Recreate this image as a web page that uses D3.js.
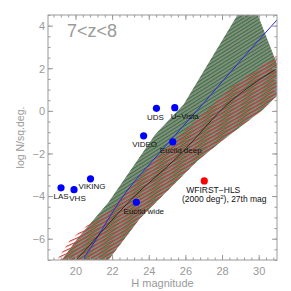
<!DOCTYPE html>
<html><head><meta charset="utf-8">
<script src="https://cdn.jsdelivr.net/npm/d3@7"></script>
<style>body{margin:0;background:#fff}svg{display:block}</style>
</head><body>
<script>
// ---- data ----
const surveyNames = ["LAS","VHS","VIKING","Euclid wide","VIDEO","UDS","U\u2212Vista","Euclid deep"];
const surveyMag   = [19.21, 19.92, 20.82, 23.32, 23.72, 24.42, 25.42, 25.31];
const surveyLogN  = [-3.61, -3.70, -3.19, -4.29, -1.17, 0.12, 0.15, -1.46];
const wfirstMag = [27.03];
const wfirstLogN = [-3.29];
const wfirstLines = ["WFIRST\u2212HLS", "(2000 deg\u00B2), 27th mag"];

const blueMag  = [20.2, 20.4, 21.0, 22.45, 24.73, 27.0, 29.0, 31.03, 31.5];
const blueLogN = [-7.3, -7.0, -6.2, -4.19, -1.83, 0.37, 2.35, 4.3, 4.75];
const blackMag  = [19.8, 20.03, 23.0, 25.65, 28.47, 29.93, 31.03, 31.5];
const blackLogN = [-7.2, -7.0, -4.19, -2.1, 0.45, 1.4, 2.0, 2.25];

const greenUpMag  = [18.9, 19.25, 20.1, 21.79, 24.36, 25.9, 28.84, 29.5];
const greenUpLogN = [-7.4, -7.0, -6.0, -4.3, -1.1, 0.3, 4.5, 5.5];
const redUpMag  = [18.7, 18.99, 19.7, 20.6, 22.0, 24.5, 26.5, 28.47, 31.03, 31.5];
const redUpLogN = [-7.3, -7.0, -6.06, -5.4, -4.55, -2.1, -0.5, 1.1, 2.62, 2.85];
const lowMag  = [21.6, 21.8, 23.54, 26.65, 28.0, 30.21, 31.03, 31.5];
const lowLogN = [-7.3, -7.0, -5.03, -2.35, -1.4, 0.04, 0.74, 1.1];

const xTicks = [20, 22, 24, 26, 28, 30];
const yTicks = [-6, -4, -2, 0, 2, 4];
const titleText = "7<z<8";
const xLabel = "H magnitude";
const yLabel = "log N/sq.deg.";

// ---- layout ----
const W = 291, H = 291;
const m = {l: 48, r: 14, t: 15, b: 31};
const x = d3.scaleLinear().domain([18.5, 31]).range([m.l, W - m.r]);
const y = d3.scaleLinear().domain([-7, 4.5]).range([H - m.b, m.t]);
const axisCol = "#9a9a9a";
const font = "'Liberation Sans', Arial, sans-serif";

const svg = d3.select("body").append("svg").attr("width", W).attr("height", H);
const defs = svg.append("defs");
defs.append("clipPath").attr("id", "clip").append("rect")
  .attr("x", m.l).attr("y", m.t).attr("width", W - m.l - m.r).attr("height", H - m.t - m.b);

const gp = defs.append("pattern").attr("id", "greenHatch").attr("patternUnits", "userSpaceOnUse")
  .attr("width", 3).attr("height", 3).attr("patternTransform", "rotate(-32)");
gp.append("rect").attr("width", 3).attr("height", 3).attr("fill", "#8a8a8a");
gp.append("rect").attr("width", 3).attr("height", 1.1).attr("fill", "#2e7a2e");

const rp = defs.append("pattern").attr("id", "redHatch").attr("patternUnits", "userSpaceOnUse")
  .attr("width", 3.4).attr("height", 3.4).attr("patternTransform", "rotate(-24)");
rp.append("rect").attr("width", 3.4).attr("height", 1.1).attr("fill", "#d23a3a");

const zip = (a, b) => a.map((v, i) => [v, b[i]]);
const line = d3.line().x(d => x(d[0])).y(d => y(d[1])).curve(d3.curveMonotoneX);

function bandPath(upM, upL, loM, loL) {
  const up = zip(upM, upL).map(d => [x(d[0]), y(d[1])]);
  const lo = zip(loM, loL).map(d => [x(d[0]), y(d[1])]).reverse();
  return d3.line().curve(d3.curveLinear)(up.concat(lo)) + "Z";
}

const plot = svg.append("g").attr("clip-path", "url(#clip)");
plot.append("path").attr("d", bandPath(greenUpMag, greenUpLogN, lowMag, lowLogN))
  .attr("fill", "url(#greenHatch)");
plot.append("path").attr("d", bandPath(redUpMag, redUpLogN, lowMag, lowLogN))
  .attr("fill", "url(#redHatch)");
plot.append("path").datum(zip(blueMag, blueLogN)).attr("d", line)
  .attr("fill", "none").attr("stroke", "#2a2ae0").attr("stroke-width", 1);
plot.append("path").datum(zip(blackMag, blackLogN)).attr("d", line)
  .attr("fill", "none").attr("stroke", "#1a1a1a").attr("stroke-width", 0.8);

// ---- axes box ----
svg.append("rect").attr("x", m.l).attr("y", m.t).attr("width", W - m.l - m.r).attr("height", H - m.t - m.b)
  .attr("fill", "none").attr("stroke", axisCol).attr("stroke-width", 1);

function ticks(dom, step) { const r = []; for (let v = Math.ceil(dom[0] / step - 1e-9) * step; v <= dom[1] + 1e-9; v += step) r.push(+v.toFixed(4)); return r; }
const xMinor = ticks(x.domain(), 0.4);
const yMinor = ticks(y.domain(), 0.5);

const axB = d3.axisBottom(x).tickValues(xTicks).tickSize(-5).tickFormat(d3.format("d"));
const axT = d3.axisTop(x).tickValues(xTicks).tickSize(-5).tickFormat("");
const axL = d3.axisLeft(y).tickValues(yTicks).tickSize(-5).tickFormat(d3.format("d"));
const axR = d3.axisRight(y).tickValues(yTicks).tickSize(-5).tickFormat("");
const mB = d3.axisBottom(x).tickValues(xMinor).tickSize(-2.5).tickFormat("");
const mT = d3.axisTop(x).tickValues(xMinor).tickSize(-2.5).tickFormat("");
const mL = d3.axisLeft(y).tickValues(yMinor).tickSize(-2.5).tickFormat("");
const mR = d3.axisRight(y).tickValues(yMinor).tickSize(-2.5).tickFormat("");

function put(ax, tr) {
  const g = svg.append("g").attr("transform", tr).call(ax);
  g.select(".domain").remove();
  g.selectAll("line").attr("stroke", axisCol);
  g.selectAll("text").attr("fill", axisCol).attr("font-family", font).attr("font-size", 11);
  return g;
}
const gB = put(axB, `translate(0,${H - m.b})`);
gB.selectAll("text").attr("y", 3).attr("dy", "1.13em");
put(axT, `translate(0,${m.t})`);
const gL = put(axL, `translate(${m.l},0)`);
gL.selectAll("text").attr("x", -3).attr("dy", "0.35em");
put(axR, `translate(${W - m.r},0)`);
put(mB, `translate(0,${H - m.b})`); put(mT, `translate(0,${m.t})`);
put(mL, `translate(${m.l},0)`); put(mR, `translate(${W - m.r},0)`);

svg.append("text").attr("x", (m.l + W - m.r) / 2).attr("y", 287).attr("text-anchor", "middle")
  .attr("font-family", font).attr("font-size", 11).attr("fill", axisCol).text(xLabel);
svg.append("text").attr("transform", `translate(24,${(m.t + H - m.b) / 2}) rotate(-90)`).attr("text-anchor", "middle")
  .attr("font-family", font).attr("font-size", 10.5).attr("fill", axisCol).text(yLabel);
svg.append("text").attr("x", 67).attr("y", 37).attr("font-family", font).attr("font-size", 18)
  .attr("fill", axisCol).text(titleText);

// ---- survey points ----
const labelDx = [0, 3.5, 1.5, 7.5, 1, -1, 10, 8];
const labelDy = [11, 11, 10, 11.5, 11, 11.5, 11.5, 11];
const pts = svg.append("g");
surveyNames.forEach((n, i) => {
  pts.append("circle").attr("cx", x(surveyMag[i])).attr("cy", y(surveyLogN[i])).attr("r", 3.6).attr("fill", "#0000ff");
});
surveyNames.forEach((n, i) => {
  pts.append("text").attr("x", x(surveyMag[i]) + labelDx[i]).attr("y", y(surveyLogN[i]) + labelDy[i])
    .attr("text-anchor", "middle").attr("font-family", font).attr("font-size", 8).attr("fill", "#111").text(n);
});
pts.append("circle").attr("cx", x(wfirstMag[0])).attr("cy", y(wfirstLogN[0])).attr("r", 3.6).attr("fill", "#ff0000");
const wt = pts.append("text").attr("text-anchor", "middle").attr("font-family", font).attr("font-size", 8.5).attr("fill", "#111");
wt.append("tspan").attr("x", x(wfirstMag[0]) + 9).attr("y", y(wfirstLogN[0]) + 12).text(wfirstLines[0]);
const l2 = wt.append("tspan").attr("x", x(wfirstMag[0]) + 20).attr("y", y(wfirstLogN[0]) + 21);
l2.append("tspan").text("(2000 deg");
l2.append("tspan").attr("font-size", 6).attr("dy", -3).text("2");
l2.append("tspan").attr("dy", 3).text("), 27th mag");
</script>
</body></html>
